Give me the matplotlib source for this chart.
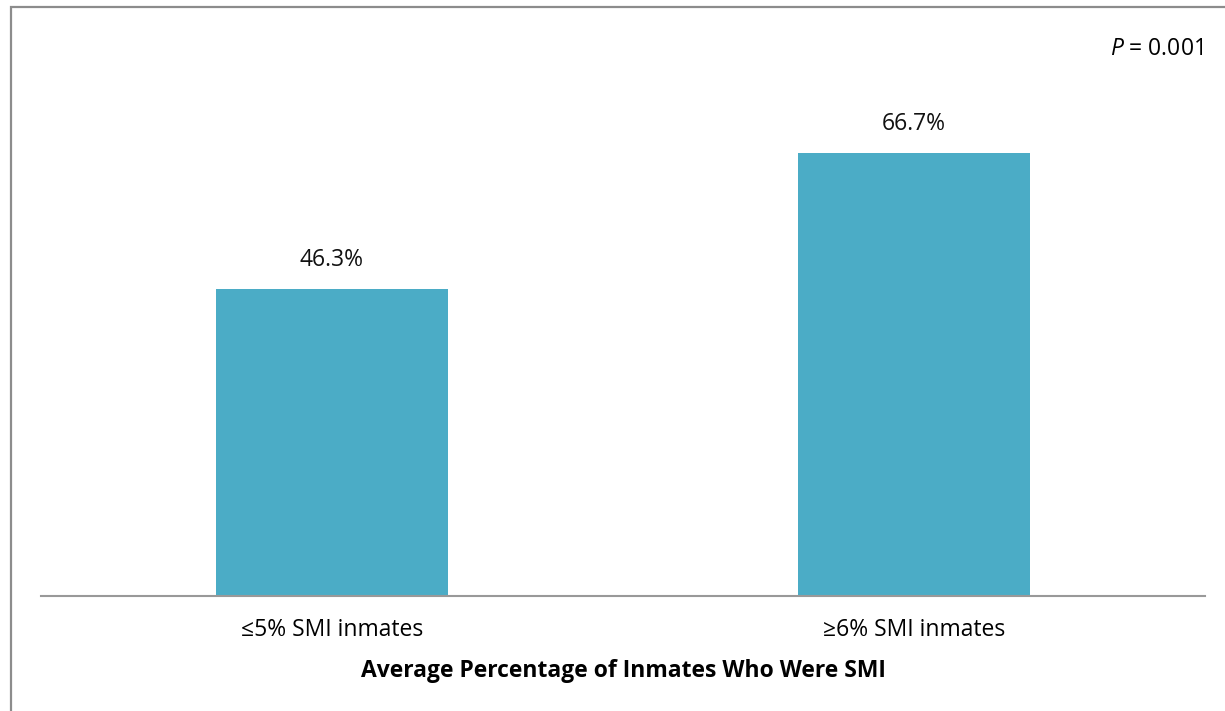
import matplotlib.pyplot as plt
from matplotlib.patches import Rectangle

categories = ['≤5% SMI inmates', '≥6% SMI inmates']
values = [46.3, 66.7]
value_labels = ['46.3%', '66.7%']
x_title = 'Average Percentage of Inmates Who Were SMI'

W, H = 1225, 711
plt.rcParams['font.family'] = ['Open Sans', 'DejaVu Sans']
plt.rcParams['mathtext.fontset'] = 'custom'
plt.rcParams['mathtext.it'] = 'Open Sans:italic'
plt.rcParams['mathtext.rm'] = 'Open Sans'

fig = plt.figure(figsize=(W / 100, H / 100), dpi=100)

# grey frame round the chart (runs off the right and bottom edge)
fig.patches.append(Rectangle((11 / W, -0.05), 1.1, 1 - 7.5 / H + 0.05,
                             transform=fig.transFigure, fill=False,
                             edgecolor='#8c8c8c', linewidth=1.6))

# axes: baseline at y=596px, 6.635 px per percent
ymax = 80
left, right, base = 41, 1205, 596
top = base - ymax * 6.635
ax = fig.add_axes([left / W, 1 - base / H, (right - left) / W, (base - top) / H])

fs = 16.5
xs = range(len(categories))
ax.bar(xs, values, width=0.4, color='#4BACC6')
for x, v, lab in zip(xs, values, value_labels):
    ax.text(x, v + 2.6, lab, ha='center', va='bottom', fontsize=fs, color='#111111')

ax.set_xlim(-0.5, 1.5)
ax.set_ylim(0, ymax)
ax.set_yticks([])
ax.set_xticks(list(xs))
ax.set_xticklabels(categories, fontsize=fs)
ax.tick_params(axis='x', length=0, pad=16)
for s in ['top', 'left', 'right']:
    ax.spines[s].set_visible(False)
ax.spines['bottom'].set_color('#999999')
ax.spines['bottom'].set_linewidth(1.5)
ax.set_xlabel(x_title, fontsize=fs, fontweight='bold', labelpad=12)

fig.text(1203 / W, 1 - 49 / H, r'$P$ = 0.001', ha='right', va='center', fontsize=fs)

fig.savefig('out.png', dpi=100, facecolor='white')
